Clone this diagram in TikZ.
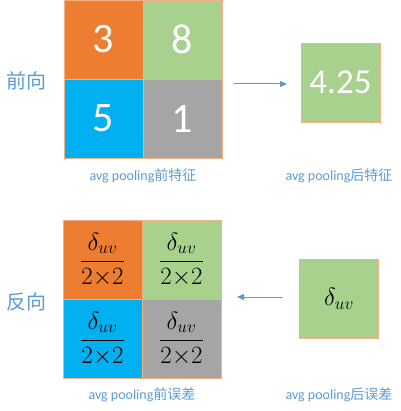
\documentclass[tikz,border=0pt]{standalone}
\usepackage{fontspec}
\setmainfont{Carlito}
\newfontfamily\cjk{Noto Sans CJK SC}
\usetikzlibrary{arrows.meta}
\definecolor{corange}{HTML}{ED7D31}
\definecolor{cgreen}{HTML}{A9D18E}
\definecolor{cblue}{HTML}{00B0F0}
\definecolor{cgray}{HTML}{A5A5A5}
\definecolor{cedge}{HTML}{F4B183}
\definecolor{ctext}{HTML}{5B9BD5}
\begin{document}
\begin{tikzpicture}[x=1pt,y=-1pt,
  cell/.style={draw=cedge,line width=0.6pt,minimum width=79pt,minimum height=79pt,inner sep=0pt,text=white,font=\fontsize{42}{42}\selectfont},
  mcell/.style={draw=cedge,line width=0.6pt,minimum width=79pt,minimum height=79pt,inner sep=0pt,text=black,font=\fontsize{23}{23}\selectfont},
  lab/.style={text=ctext,font=\fontsize{14}{14}\selectfont,inner sep=0pt},
  side/.style={text=ctext,font=\cjk\fontsize{20}{20}\selectfont,inner sep=0pt},
  arr/.style={draw=ctext,line width=1pt,-{Triangle[length=7pt,width=6pt]}}]
\useasboundingbox (0,0) rectangle (400,411);
% forward
\node[cell,fill=corange] (a) at (103.5,39.5) {3};
\node[cell,fill=cgreen] (b) at (182.5,39.5) {8};
\node[cell,fill=cblue] (c) at (103.5,118.5) {5};
\node[cell,fill=cgray] (d) at (182.5,118.5) {1};
\node[cell,fill=cgreen,font=\fontsize{35}{35}\selectfont] (e) at (340.5,82.5) {4.25};
\coordinate (fs) at (234,84);
\coordinate (fe) at (287,84);
\draw[arr] (fs) -- (fe);
\node[side] (fw) at (26,81) {前向};
\node[lab] (l1) at (143,176) {avg pooling{\cjk 前特征}};
\node[lab] (l2) at (339,176) {avg pooling{\cjk 后特征}};
% backward
\node[mcell,fill=corange] (p) at (102.5,259.5) {$\displaystyle\frac{\delta_{uv}}{2{\times}2}$};
\node[mcell,fill=cgreen] (q) at (181.5,259.5) {$\displaystyle\frac{\delta_{uv}}{2{\times}2}$};
\node[mcell,fill=cblue] (r) at (102.5,338.5) {$\displaystyle\frac{\delta_{uv}}{2{\times}2}$};
\node[mcell,fill=cgray] (s) at (181.5,338.5) {$\displaystyle\frac{\delta_{uv}}{2{\times}2}$};
\node[mcell,fill=cgreen] (t) at (339,298.5) {$\delta_{uv}$};
\coordinate (bs) at (283,297);
\coordinate (be) at (237,297);
\draw[arr] (bs) -- (be);
\node[side] (bw) at (26,302) {反向};
\node[lab] (l3) at (142,395) {avg pooling{\cjk 前误差}};
\node[lab] (l4) at (339,395) {avg pooling{\cjk 后误差}};
\end{tikzpicture}
\end{document}
